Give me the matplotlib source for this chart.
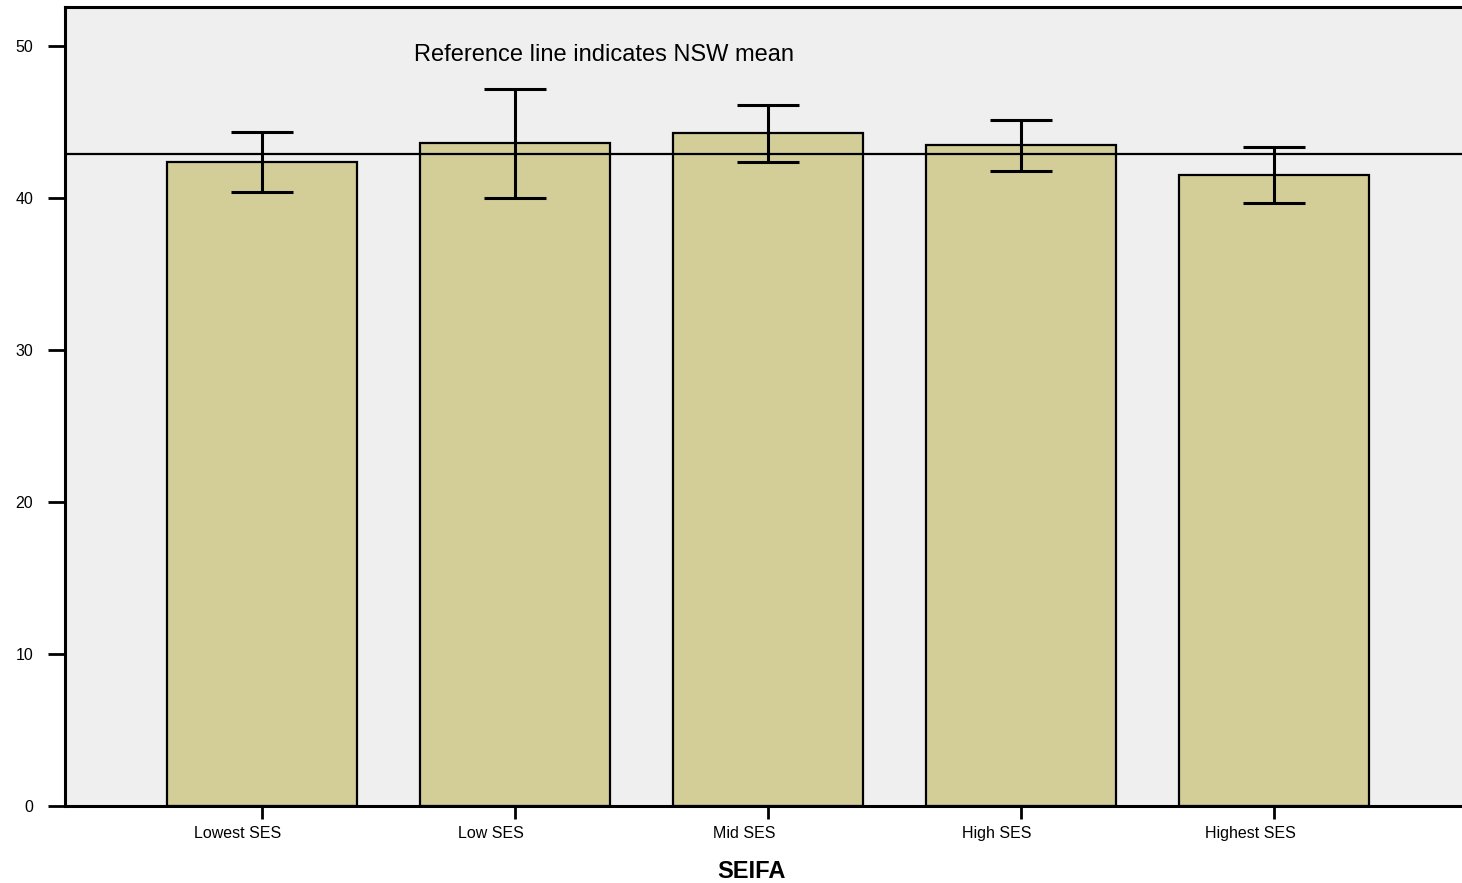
import numpy as np
import matplotlib
matplotlib.use("Agg")
import matplotlib.pyplot as plt
import matplotlib.transforms as mtransforms

plt.rcParams['font.family'] = ['Liberation Sans', 'DejaVu Sans']

categories = ['Lowest SES', 'Low SES', 'Mid SES', 'High SES', 'Highest SES']
means = [42.42, 43.62, 44.28, 43.50, 41.57]
ci_low = [40.45, 40.0, 42.42, 41.83, 39.72]
ci_high = [44.38, 47.22, 46.15, 45.13, 43.37]
nsw_mean = 42.95

fig = plt.figure(figsize=(14.62, 8.83), dpi=100)
ax = fig.add_axes([65 / 1462, 1 - 806 / 883, 1400 / 1462, 799 / 883])
ax.set_facecolor('#efefef')

x = np.arange(len(categories))
yerr = [np.array(means) - np.array(ci_low), np.array(ci_high) - np.array(means)]
ax.bar(x, means, width=0.75, color='#d3ce98', edgecolor='black', linewidth=1.6, zorder=2)
ax.errorbar(x, means, yerr=yerr, fmt='none', ecolor='black', elinewidth=2.2,
            capsize=22.5, capthick=2.2, zorder=3)
ax.axhline(nsw_mean, color='black', linewidth=1.6, zorder=4)

ax.text(0.249, 0.94, 'Reference line indicates NSW mean', transform=ax.transAxes,
        fontsize=17, va='center', ha='left')

ax.set_xlim(-0.779, 4.755)
ax.set_ylim(0, 52.6)
ax.set_yticks([0, 10, 20, 30, 40, 50])
ax.set_xticks(x)
ax.set_xticklabels(categories, fontsize=11.5)
ax.tick_params(axis='y', length=12, width=2, labelsize=11.5, pad=11)
ax.tick_params(axis='x', length=9, width=2, pad=5.5)

offset = mtransforms.ScaledTranslation(-24 / 100, 0, fig.dpi_scale_trans)
for lbl in ax.get_xticklabels():
    lbl.set_transform(lbl.get_transform() + offset)

for side in ['left', 'bottom', 'top']:
    ax.spines[side].set_linewidth(2.2)
ax.spines['right'].set_visible(False)

ax.set_xlabel('SEIFA', fontsize=17, fontweight='bold')
ax.xaxis.set_label_coords(0.49, -0.068)

fig.savefig('out.png', dpi=100)
